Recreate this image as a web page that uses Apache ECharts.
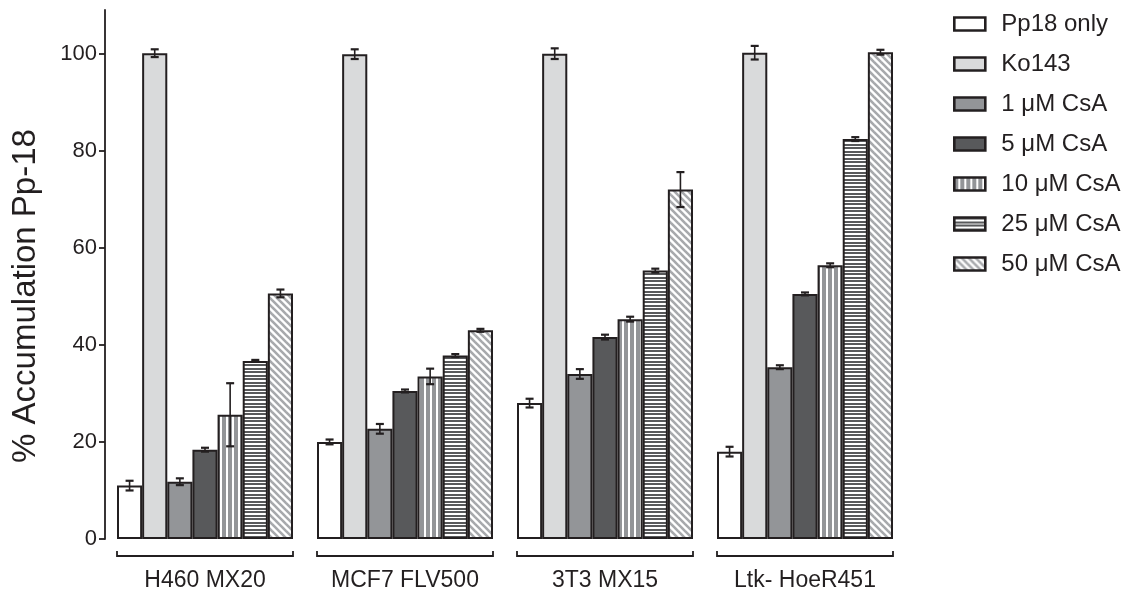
<!DOCTYPE html>
<html>
<head>
<meta charset="utf-8">
<script src="https://cdn.jsdelivr.net/npm/echarts@6/dist/echarts.min.js"></script>
<style>
  html, body { margin: 0; padding: 0; background: #ffffff; }
  #chart { width: 1135px; height: 598px; }
</style>
</head>
<body>
<div id="chart"></div>
<script>
// Cell lines on the x axis
const categories = ['H460 MX20', 'MCF7 FLV500', '3T3 MX15', 'Ltk- HoeR451'];
const seriesNames = ['Pp18 only', 'Ko143', '1 μM CsA', '5 μM CsA', '10 μM CsA', '25 μM CsA', '50 μM CsA'];
const yTicks = [0, 20, 40, 60, 80, 100];

// Mean % accumulation per treatment, one value per cell line
const pp18Only = [11.0, 20.0, 28.0, 18.0];
const ko143    = [100.1, 99.9, 100.0, 100.2];
const csa1     = [11.8, 22.7, 34.0, 35.4];
const csa5     = [18.4, 30.5, 41.6, 50.5];
const csa10    = [25.6, 33.5, 45.3, 56.4];
const csa25    = [36.7, 37.8, 55.3, 82.4];
const csa50    = [50.6, 43.0, 72.0, 100.3];

// Error (± SD) for each mean
const pp18OnlyErr = [1.0, 0.5, 0.9, 1.0];
const ko143Err    = [0.8, 1.0, 1.1, 1.4];
const csa1Err     = [0.7, 1.0, 1.0, 0.4];
const csa5Err     = [0.4, 0.3, 0.5, 0.3];
const csa10Err    = [6.5, 1.6, 0.5, 0.4];
const csa25Err    = [0.2, 0.3, 0.4, 0.4];
const csa50Err    = [0.8, 0.3, 3.6, 0.5];

const values = [pp18Only, ko143, csa1, csa5, csa10, csa25, csa50];
const errors = [pp18OnlyErr, ko143Err, csa1Err, csa5Err, csa10Err, csa25Err, csa50Err];

const INK = '#231f20';
const FONT = '"Liberation Sans", Arial, sans-serif';
const CATEGORY_GAP = 0.12;

// Tiled fills for the striped bars
function makeTile(w, h, draw) {
  const c = document.createElement('canvas');
  c.width = w; c.height = h;
  const ctx = c.getContext('2d');
  draw(ctx, w, h);
  return { image: c, repeat: 'repeat' };
}
const verticalStripes = makeTile(6, 2, (ctx) => {
  ctx.fillStyle = '#ffffff'; ctx.fillRect(0, 0, 6, 2);
  ctx.fillStyle = '#939598'; ctx.fillRect(0, 0, 4, 2);
});
const horizontalStripes = makeTile(2, 7, (ctx) => {
  ctx.fillStyle = '#ffffff'; ctx.fillRect(0, 0, 2, 7);
  ctx.fillStyle = '#58595b';
  ctx.fillRect(0, 0, 2, 2);
  ctx.fillRect(0, 4, 2, 2);
});
const diagonalStripes = makeTile(7, 7, (ctx) => {
  ctx.fillStyle = '#ffffff'; ctx.fillRect(0, 0, 7, 7);
  ctx.strokeStyle = '#a7a9ac';
  ctx.lineWidth = 2.6;
  for (let c = -7; c <= 7; c += 7) {
    ctx.beginPath();
    ctx.moveTo(c - 2, -2);
    ctx.lineTo(c + 9, 9);
    ctx.stroke();
  }
});

const fills = ['#ffffff', '#d9dadb', '#939598', '#58595b', verticalStripes, horizontalStripes, diagonalStripes];

const barSeries = seriesNames.map((name, i) => ({
  name: name,
  type: 'bar',
  data: values[i],
  barGap: '0%',
  barCategoryGap: (CATEGORY_GAP * 100) + '%',
  itemStyle: { color: fills[i], borderColor: INK, borderWidth: 2 },
  emphasis: { disabled: true },
  z: 2
}));

// Error bars: one item per bar, [categoryIndex, seriesIndex, mean, error]
const errorData = [];
values.forEach((arr, s) => arr.forEach((v, c) => errorData.push([c, s, v, errors[s][c]])));

const errorSeries = {
  type: 'custom',
  data: errorData,
  z: 10,
  silent: true,
  renderItem: function (params, api) {
    const c = api.value(0), s = api.value(1), v = api.value(2), e = api.value(3);
    const band = api.size([1, 0])[0];
    const barW = band * (1 - CATEGORY_GAP) / seriesNames.length;
    const center = api.coord([c, v]);
    const x = center[0] + (s - (seriesNames.length - 1) / 2) * barW;
    const yHi = api.coord([c, v + e])[1];
    const yLo = api.coord([c, v - e])[1];
    const hw = 4;
    return {
      type: 'group',
      children: [
        { type: 'line', shape: { x1: x, y1: yHi, x2: x, y2: yLo }, style: { stroke: INK, lineWidth: 1.6 } },
        { type: 'line', shape: { x1: x - hw, y1: yHi, x2: x + hw, y2: yHi }, style: { stroke: INK, lineWidth: 2.2 } },
        { type: 'line', shape: { x1: x - hw, y1: yLo, x2: x + hw, y2: yLo }, style: { stroke: INK, lineWidth: 2.2 } }
      ]
    };
  }
};

// Brackets under each cell-line group
const bracketSeries = {
  type: 'custom',
  data: categories.map((_, i) => [i, 0]),
  silent: true,
  z: 5,
  renderItem: function (params, api) {
    const c = api.value(0);
    const band = api.size([1, 0])[0];
    const half = band * (1 - CATEGORY_GAP) / 2;
    const p = api.coord([c, 0]);
    const y = p[1] + 17, up = 5;
    return {
      type: 'polyline',
      shape: { points: [[p[0] - half, y - up], [p[0] - half, y], [p[0] + half, y], [p[0] + half, y - up]] },
      style: { stroke: INK, lineWidth: 1.8, fill: null }
    };
  }
};

const chart = echarts.init(document.getElementById('chart'), null, { renderer: 'canvas' });
chart.setOption({
  animation: false,
  backgroundColor: '#ffffff',
  grid: { left: 105, right: 230, top: 10, bottom: 59, containLabel: false },
  legend: {
    data: seriesNames,
    orient: 'vertical',
    left: 948,
    top: 7,
    icon: 'rect',
    itemWidth: 31,
    itemHeight: 13,
    itemGap: 16,
    selectedMode: false,
    itemStyle: { borderWidth: 2.6, borderColor: INK },
    textStyle: { fontFamily: FONT, fontSize: 24, lineHeight: 24, color: INK, padding: [0, 0, 0, 11] }
  },
  xAxis: {
    type: 'category',
    data: categories,
    axisLine: { show: false },
    axisTick: { show: false },
    axisLabel: { fontFamily: FONT, fontSize: 23, color: INK, margin: 30 }
  },
  yAxis: {
    type: 'value',
    min: 0,
    max: 109,
    interval: 20,
    splitLine: { show: false },
    axisLine: { show: true, lineStyle: { color: INK, width: 1.8 } },
    axisTick: { show: true, length: 6, lineStyle: { color: INK, width: 1.8 }, customValues: yTicks },
    axisLabel: { fontFamily: FONT, fontSize: 22, color: INK, margin: 8, customValues: yTicks }
  },
  graphic: [{
    type: 'text',
    x: 26, y: 296,
    rotation: Math.PI / 2,
    style: {
      text: '% Accumulation Pp-18',
      font: '33px ' + FONT,
      fill: INK,
      textAlign: 'center',
      textVerticalAlign: 'middle'
    }
  }],
  series: barSeries.concat([errorSeries, bracketSeries])
});
</script>
</body>
</html>
